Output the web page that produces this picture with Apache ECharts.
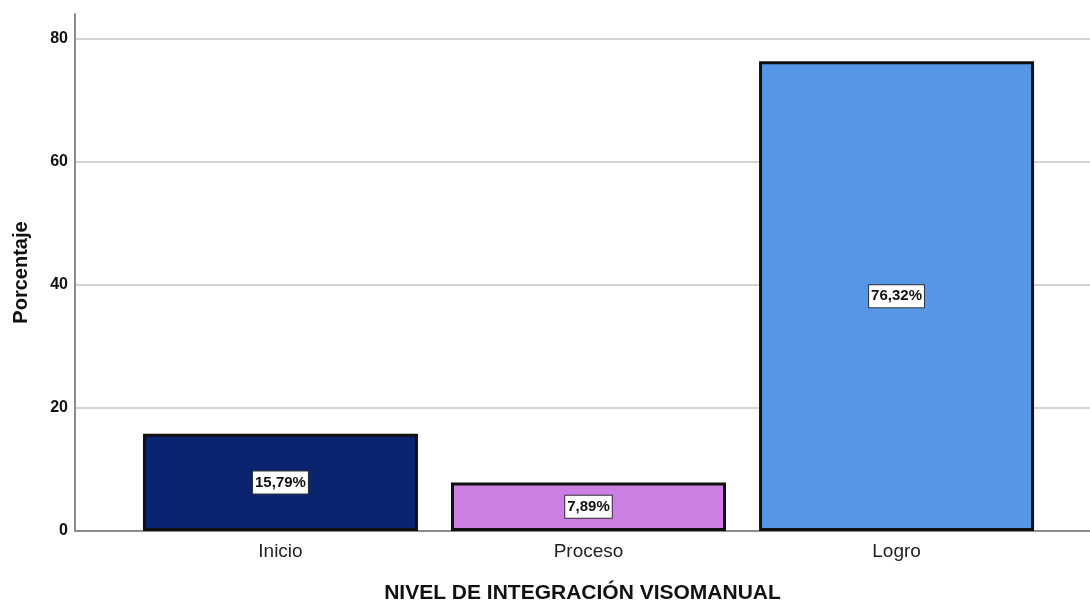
<!DOCTYPE html>
<html>
<head>
<meta charset="utf-8">
<script src="https://cdn.jsdelivr.net/npm/echarts@6/dist/echarts.min.js"></script>
<style>
  html, body { margin: 0; padding: 0; background: #fff; }
  #chart { width: 1090px; height: 602px; }
</style>
</head>
<body>
<div id="chart"></div>
<script>
// datos
const categorias = ['Inicio', 'Proceso', 'Logro'];
const porcentajes = [15.79, 7.89, 76.32];
const colores = ['#0b2470', '#cc7fe3', '#5597e6'];

const chart = echarts.init(document.getElementById('chart'));

const option = {
  animation: false,
  textStyle: { fontFamily: 'Liberation Sans, Arial, sans-serif' },
  grid: { left: 75, right: 0, top: 14, bottom: 71, outerBoundsMode: 'none', containLabel: false },
  xAxis: {
    type: 'value',
    min: -0.667,
    max: 2.628,
    name: 'NIVEL DE INTEGRACIÓN VISOMANUAL',
    nameLocation: 'middle',
    nameGap: 52,
    nameTextStyle: { fontSize: 21, fontWeight: 'bold', color: '#111' },
    axisLine: { show: true, onZero: false, lineStyle: { color: '#8c8c8c', width: 2 } },
    axisTick: { show: false },
    splitLine: { show: false },
    axisLabel: {
      customValues: [0, 1, 2],
      formatter: v => categorias[Math.round(v)] || '',
      fontSize: 19,
      color: '#222',
      margin: 11
    }
  },
  yAxis: {
    type: 'value',
    min: 0,
    max: 84,
    interval: 20,
    name: 'Porcentaje',
    nameLocation: 'middle',
    nameRotate: 90,
    nameGap: 44,
    nameTextStyle: { fontSize: 20, fontWeight: 'bold', color: '#111' },
    axisLine: { show: true, onZero: false, lineStyle: { color: '#8c8c8c', width: 2 } },
    axisTick: { show: false },
    axisLabel: {
      showMaxLabel: false,
      fontSize: 16,
      fontWeight: 'bold',
      color: '#111',
      margin: 7
    },
    splitLine: {
      show: true,
      showMinLine: false,
      showMaxLine: false,
      lineStyle: { color: '#d4d4d4', width: 2 }
    }
  },
  series: [
    {
      type: 'bar',
      barWidth: 275,
      data: porcentajes.map((v, i) => ({
        value: [i, v],
        itemStyle: { color: colores[i] }
      })),
      itemStyle: { borderColor: '#111', borderWidth: 3 },
      label: {
        show: true,
        position: 'inside',
        formatter: p => p.value[1].toFixed(2).replace('.', ',') + '%',
        fontSize: 15,
        fontWeight: 'bold',
        color: '#111',
        backgroundColor: '#fff',
        borderColor: '#333',
        borderWidth: 1,
        padding: [4, 2, 3, 2]
      }
    }
  ]
};

chart.setOption(option);
window.onresize = function () {
  chart.resize();
};
</script>
</body>
</html>
